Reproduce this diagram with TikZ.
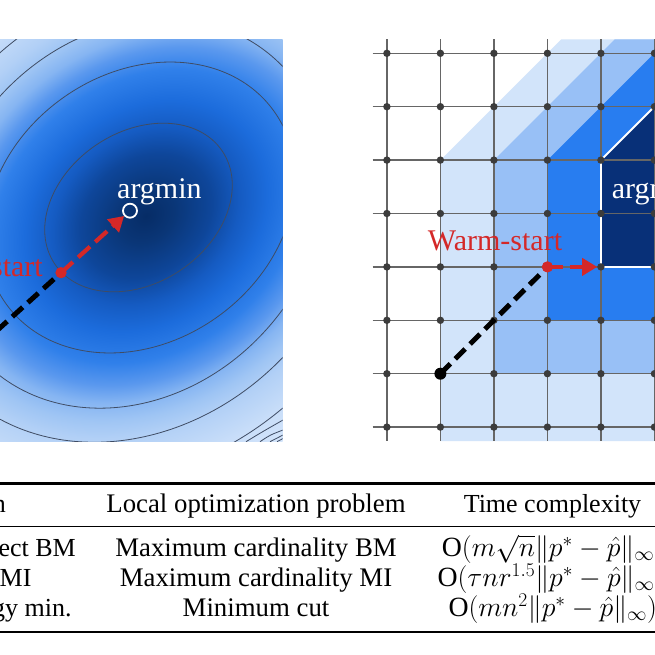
\RequirePackage{fix-cm}
\documentclass[tikz,border=0pt]{standalone}
\usepackage[no-math]{fontspec}
\setmainfont{Liberation Serif}
\usetikzlibrary{arrows.meta}
\definecolor{sh0}{HTML}{062C66}
\definecolor{sh1}{HTML}{0A3677}
\definecolor{sh2}{HTML}{0E469A}
\definecolor{sh3}{HTML}{155BC2}
\definecolor{sh4}{HTML}{1C6CDC}
\definecolor{sh5}{HTML}{3080EA}
\definecolor{sh6}{HTML}{5A98EE}
\definecolor{sh7}{HTML}{86B5F2}
\definecolor{sh8}{HTML}{9FC5F4}
\definecolor{sh9}{HTML}{B2D0F6}
\definecolor{sh10}{HTML}{C9DEF9}
\definecolor{sh11}{HTML}{D9E8FB}
\definecolor{sh12}{HTML}{E3EEFC}
\definecolor{cline}{HTML}{3F4C64}
\definecolor{wred}{HTML}{D42828}
\definecolor{gline}{HTML}{666666}
\definecolor{gdot}{HTML}{3C3C3C}
\definecolor{lvA}{HTML}{D2E4FA}
\definecolor{lvB}{HTML}{98C0F6}
\definecolor{lvC}{HTML}{287DF0}
\definecolor{lvD}{HTML}{083078}
\pgfdeclareradialshading{bowl}{\pgfpoint{0bp}{0bp}}{%
 color(0bp)=(sh0); color(30bp)=(sh1); color(70bp)=(sh2); color(100bp)=(sh3);
 color(130bp)=(sh4); color(165bp)=(sh5); color(190bp)=(sh6); color(210bp)=(sh7);
 color(230bp)=(sh8); color(250bp)=(sh9); color(290bp)=(sh10); color(340bp)=(sh11);
 color(450bp)=(sh12)}
\begin{document}
\begin{tikzpicture}[x=1pt,y=-1pt,
  contour/.style={draw=cline, line width=0.8pt},
  gridline/.style={draw=gline, line width=1.4pt},
  gdotst/.style={circle, fill=gdot, minimum size=7.4pt, inner sep=0pt, outer sep=0pt},
  reddot/.style={circle, fill=wred, minimum size=11pt, inner sep=0pt, outer sep=0pt},
  blackdot/.style={circle, fill=black, minimum size=12pt, inner sep=0pt, outer sep=0pt},
  blackdash/.style={draw=black, line width=5pt, dash pattern=on 14pt off 7pt},
  reddash/.style={draw=wred, line width=4.2pt, dash pattern=on 16pt off 7pt, -{Triangle[length=15pt,width=17pt]}},
  lbl/.style={font=\fontsize{30}{36}\selectfont, inner sep=0pt},
  tbl/.style={font=\fontsize{26}{30}\selectfont, inner sep=0pt},
  tblmid/.style={font=\fontsize{26.8}{30}\selectfont, inner sep=0pt},
  tblmath/.style={font=\fontsize{27.8}{30}\selectfont, inner sep=0pt},
  rulethick/.style={draw=black, line width=2.4pt},
  rulethin/.style={draw=black, line width=1.2pt}]
\useasboundingbox (0,0) rectangle (655,655);
\clip (0,0) rectangle (655,655);
\fill[white] (0,0) rectangle (655,655);

% ---------- left panel ----------
\begin{scope}
\clip (0,39.3) rectangle (282.7,441.3);
\begin{scope}[shift={(146,216)}, rotate=38, yscale=0.81]
\node[transform shape, inner sep=0pt, outer sep=0pt] (bg) at (0,0) {\pgfuseshading{bowl}};
\end{scope}
\draw[contour, rotate around={34:(138.5,207.5)}] (138.5,207.5) ellipse [x radius=101, y radius=75.5];
\draw[contour, rotate around={36:(140,207.5)}] (140,207.5) ellipse [x radius=165, y radius=134];
\draw[contour, rotate around={46:(132.7,213.4)}] (132.7,213.4) ellipse [x radius=210, y radius=177];
\draw[contour, rotate around={46:(132.7,213.4)}] (132.7,213.4) ellipse [x radius=246.7, y radius=208];
\draw[contour, rotate around={46:(132.7,213.4)}] (132.7,213.4) ellipse [x radius=290.8, y radius=245];
\draw[contour] (246,441.7) .. controls (262,432) .. (283,420);
\draw[contour] (260,441.7) .. controls (270,435) .. (283,430);
\draw[contour] (270,441.7) .. controls (276,438) .. (283,435);
\draw[contour] (277,441.7) .. controls (280,440) .. (283,438.5);
\end{scope}

\coordinate (ls) at (-50,373);
\node[reddot] (ws1) at (61,272.7) {};
\node[circle, draw=white, line width=1.8pt, minimum size=14pt, inner sep=0pt] (am1) at (130,210.7) {};
\draw[blackdash] (ls) -- (ws1.center);
\draw[reddash] (ws1.center) -- (am1);
\node[reddot] at (ws1.center) {};
\node[lbl, text=white, anchor=base west] (t1) at (117,198) {argmin};
\node[lbl, text=wred, anchor=base east] (t2) at (43,276) {Warm-start};

% ---------- right panel ----------
\begin{scope}
\clip (372.7,39.3) rectangle (700,441);
\fill[lvA] (440.4,441) -- (440.4,160.1) -- (561.2,39.3) -- (760,39.3) -- (760,441) -- cycle;
\fill[lvB] (493.9,373.7) -- (493.9,160.1) -- (614.7,39.3) -- (760,39.3) -- (760,373.7) -- cycle;
\fill[lvC] (547.4,320.3) -- (547.4,160.1) -- (668.2,39.3) -- (760,39.3) -- (760,320.3) -- cycle;
\fill[lvD] (600.9,266.9) -- (600.9,160.1) -- (721.7,39.3) -- (760,39.3) -- (760,266.9) -- cycle;
\foreach \i in {0,...,5}{\draw[gridline] ({386.9+53.5*\i},39.3) -- ({386.9+53.5*\i},441);}
\foreach \j in {0,...,7}{\draw[gridline] (372.7,{53.3+53.4*\j}) -- (700,{53.3+53.4*\j});}
\draw[white, line width=1.8pt] (721.7,39.3) -- (600.9,160.1) -- (600.9,266.9) -- (700,266.9);
\end{scope}
\foreach \i in {0,...,5}{\foreach \j in {0,...,7}{
  \node[gdotst] (g\i\j) at ({386.9+53.5*\i},{53.3+53.4*\j}) {};}}
\node[blackdot] (bs2) at (g16.center) {};
\node[reddot] (ws2) at (g34.center) {};
\draw[blackdash] (bs2.center) -- (ws2.center);
\draw[reddash] (ws2.center) -- (g44);
\node[reddot] at (ws2.center) {};
\node[lbl, text=white, anchor=base west] (t3) at (611.7,198) {argmin};
\node[lbl, text=wred, anchor=base west] (t4) at (427.7,250) {Warm-start};

% ---------- table ----------
\draw[rulethick] (0,483.3) -- (655,483.3);
\draw[rulethin] (0,526.7) -- (655,526.7);
\draw[rulethick] (0,631.7) -- (655,631.7);
\node[tbl, anchor=base east] (h1) at (6,512) {n};
\node[tblmid, anchor=base] (h2) at (256,512) {Local optimization problem};
\node[tbl, anchor=base] (h3) at (552.5,512) {Time complexity};
\node[tbl, anchor=base east] (a1) at (76,556.5) {ect BM};
\node[tbl, anchor=base east] (a2) at (31.7,586.7) {MI};
\node[tbl, anchor=base east] (a3) at (71.7,616.5) {gy min.};
\node[tblmid, anchor=base] (b1) at (256,556.5) {Maximum cardinality BM};
\node[tblmid, anchor=base] (b2) at (256,586.7) {Maximum cardinality MI};
\node[tblmid, anchor=base] (b3) at (256,616.5) {Minimum cut};
\node[tblmath, anchor=base west] (c1) at (441.7,556.5) {O$(m\sqrt{n}\|p^*-\hat{p}\|_\infty)$};
\node[tblmath, anchor=base west] (c2) at (437.3,586.7) {O$(\tau n r^{1.5}\|p^*-\hat{p}\|_\infty)$};
\node[tblmath, anchor=base west] (c3) at (448.3,616.5) {O$(mn^2\|p^*-\hat{p}\|_\infty)$};
\end{tikzpicture}
\end{document}
